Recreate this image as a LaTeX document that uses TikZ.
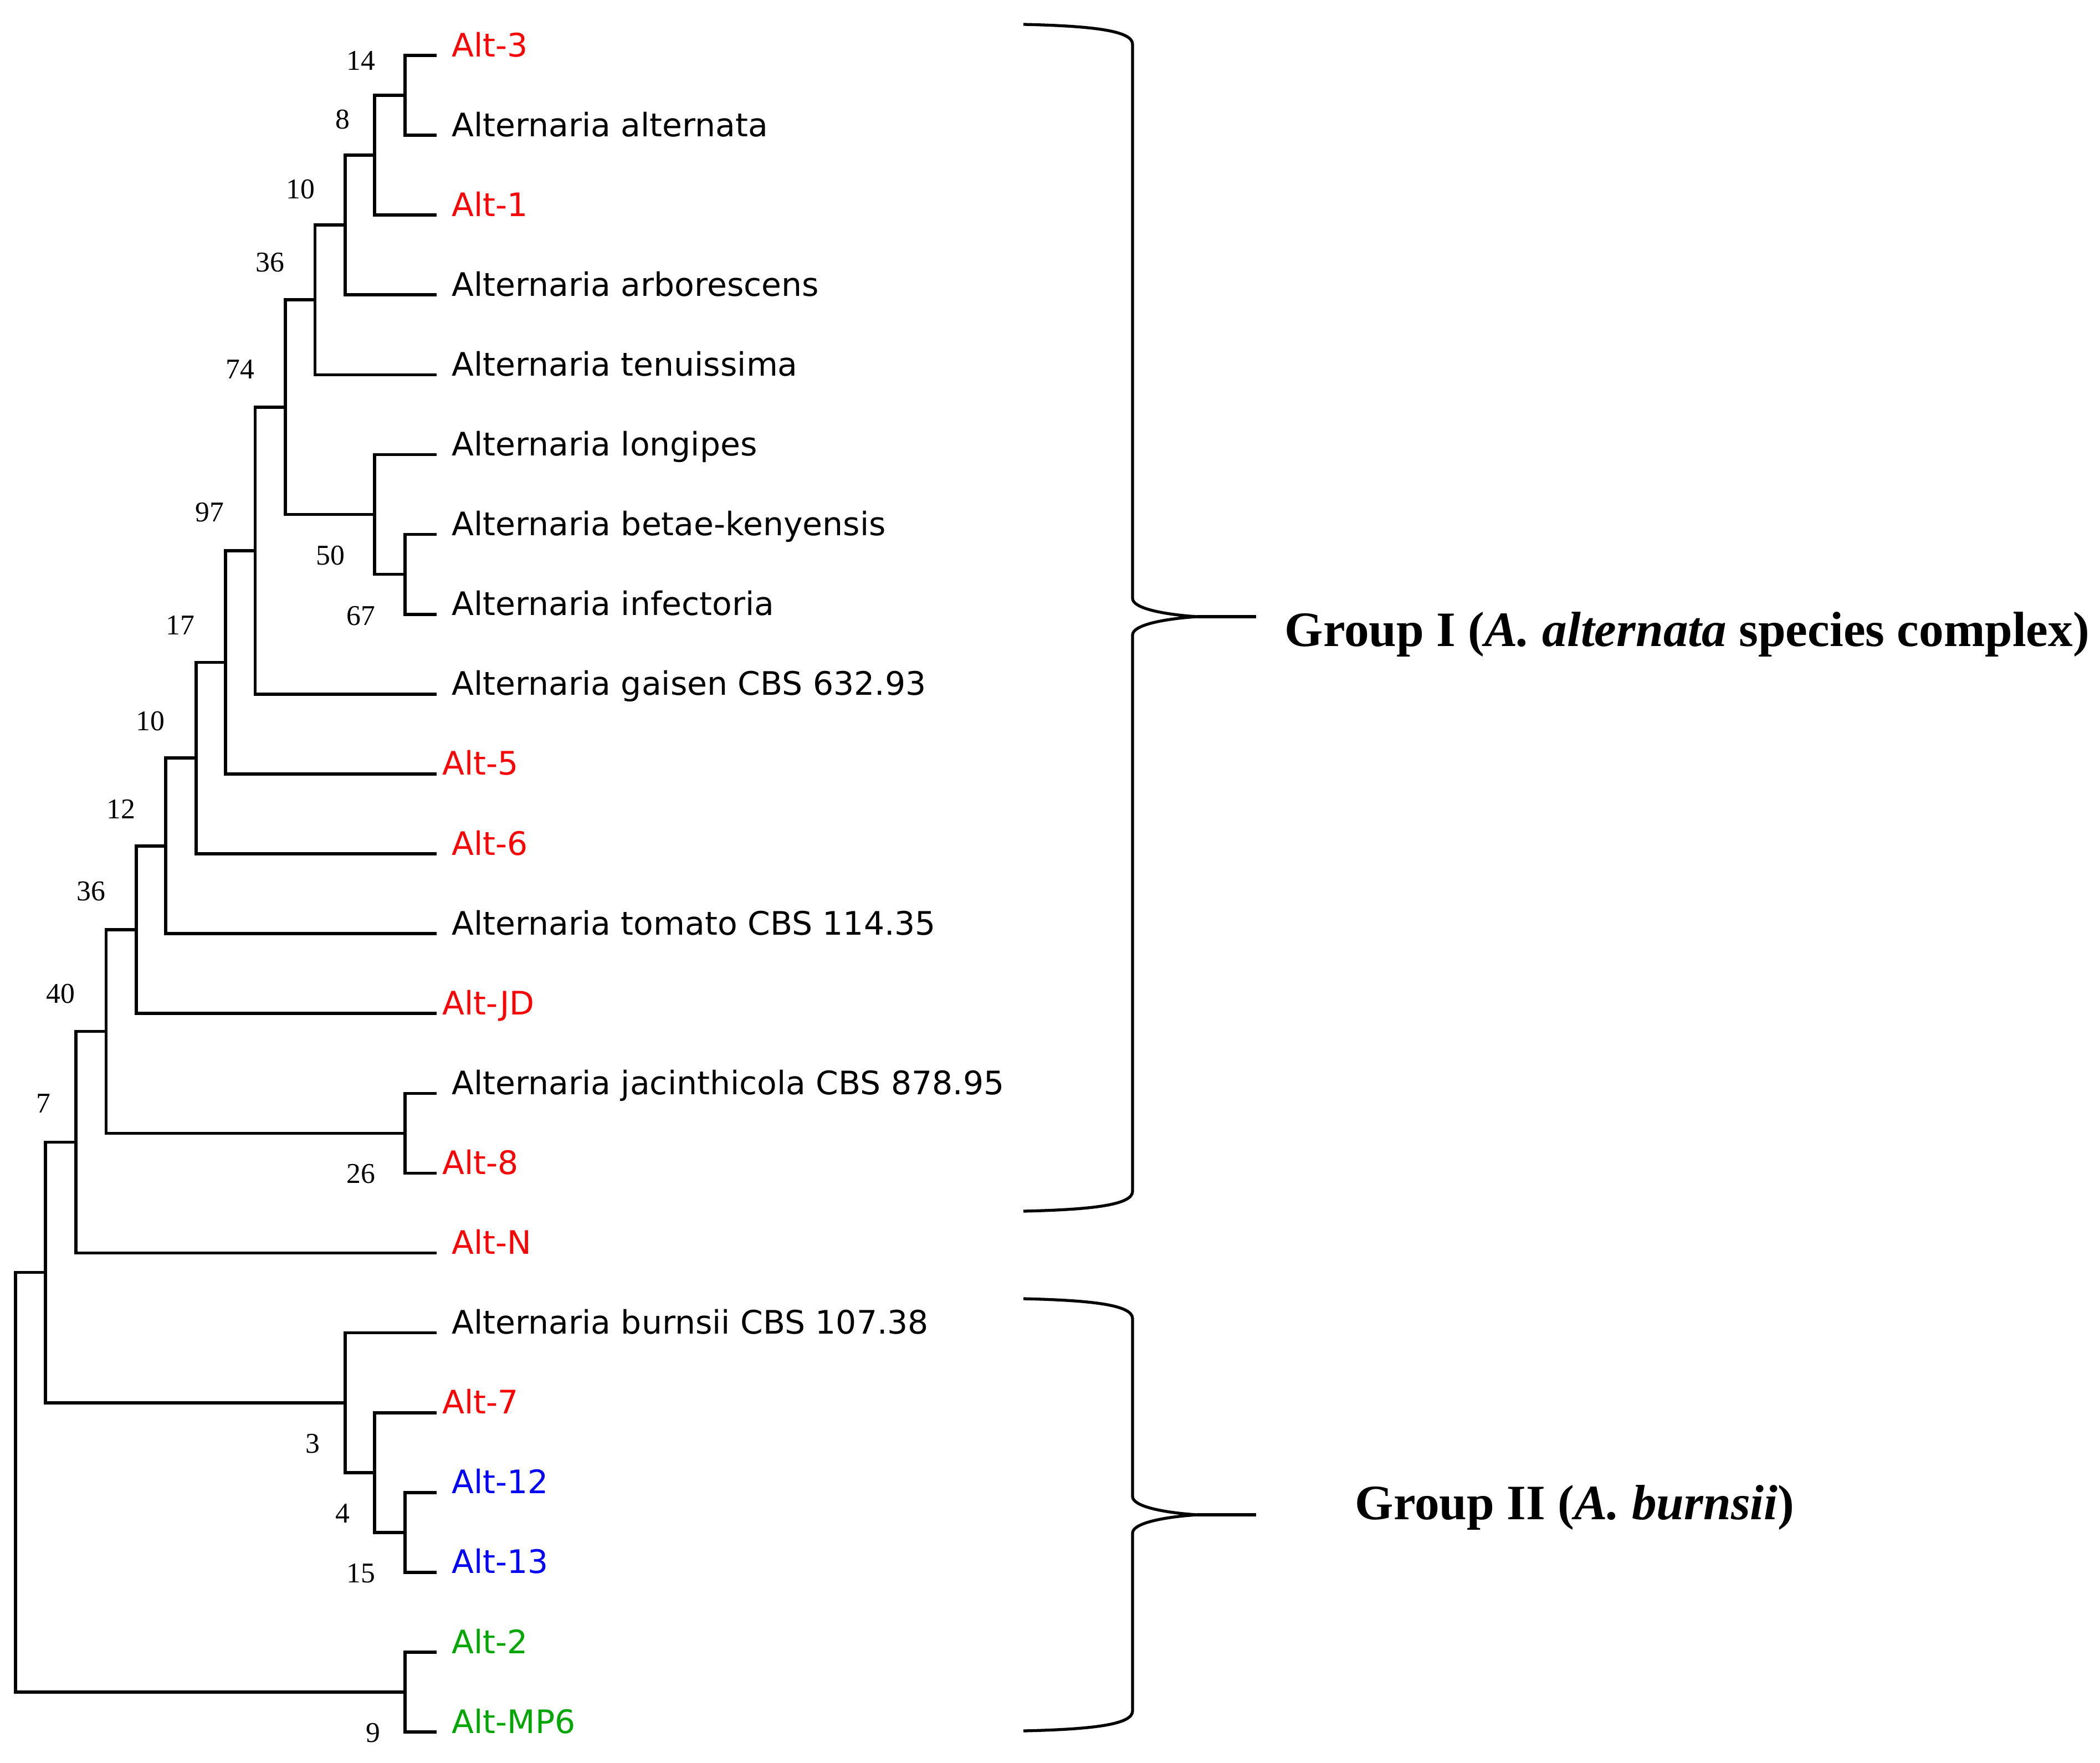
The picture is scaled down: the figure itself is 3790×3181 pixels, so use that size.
\documentclass[tikz,border=0pt]{standalone}
\usepackage{fontspec}
\setmainfont{Liberation Serif}
\newfontfamily\taxonfont{DejaVu Sans}
\definecolor{altred}{RGB}{255,0,0}
\definecolor{altblue}{RGB}{0,0,255}
\definecolor{altgreen}{RGB}{0,166,0}
\tikzset{
	branch/.style={line width=1.6pt,black},
	taxon/.style={inner sep=0pt,anchor=base west,font=\taxonfont\fontsize{16.6}{19}\selectfont},
	support/.style={inner sep=0pt,font=\fontsize{14.7}{17}\selectfont},
	groupbrace/.style={line width=1.5pt,line join=round},
	grouplabel/.style={inner sep=0pt,anchor=base west,font=\bfseries\fontsize{25.4}{30}\selectfont},
}

\begin{document}
\begin{tikzpicture}[x=0.01cm,y=-0.01cm]
\useasboundingbox (0,0) rectangle (3790,3181);

% leaves
\foreach[count=\i] \name/\col/\dx in {
	Alt-3/altred/27
	,Alternaria alternata/black/27
	,Alt-1/altred/27
	,Alternaria arborescens/black/27
	,Alternaria tenuissima/black/27
	,Alternaria longipes/black/27
	,Alternaria betae-kenyensis/black/27
	,Alternaria infectoria/black/27
	,Alternaria gaisen CBS 632.93/black/27
	,Alt-5/altred/10
	,Alt-6/altred/27
	,Alternaria tomato CBS 114.35/black/27
	,Alt-JD/altred/10
	,Alternaria jacinthicola CBS 878.95/black/27
	,Alt-8/altred/10
	,Alt-N/altred/27
	,Alternaria burnsii CBS 107.38/black/27
	,Alt-7/altred/10
	,Alt-12/altblue/27
	,Alt-13/altblue/27
	,Alt-2/altgreen/27
	,Alt-MP6/altgreen/27
}{
	\pgfmathsetmacro\yy{100+144.1*(\i-1)}
	\coordinate (L\i) at (788,\yy);
	\path (L\i) ++(\dx,2) node[taxon,text=\col] (T\i) {\name};
}

% inner nodes
\foreach \n \x \y in {
	a/731/172.05, b/676/280.1, c/623/406.2, d/568.5/541.3%
	,e/731/1036.65, f/676/928.6, g/515/734.9, h/460.6/993.9%
	,i/407/1195.4, j/354/1368.2, k/299/1526.7, l/246/1677.9%
	,m/731/2045.35, n/191.5/1861.6, o/137/2061.6%
	,p/731/2765.85, q/676/2657.8, r/623/2531.7%
	,s/82/2296.6, t/731/3054.05, root/28/2675.3%
}{
	\coordinate (\n) at (\x,\y);
}

\foreach \u \v in {
	a/L1,a/L2,b/a,b/L3,c/b,c/L4,d/c,d/L5%
	,e/L7,e/L8,f/L6,f/e,g/d,g/f,h/g,h/L9%
	,i/h,i/L10,j/i,j/L11,k/j,k/L12,l/k,l/L13%
	,m/L14,m/L15,n/l,n/m,o/n,o/L16%
	,p/L19,p/L20,q/L18,q/p,r/L17,r/q%
	,s/o,s/r,t/L21,t/L22,root/s,root/t%
}{
	\draw[branch] (\u) |- (\v);
}

% bootstrap values
\foreach[count=\i] \val \x \y in {
	14/651/109, 8/618/216, 10/542/342, 36/487/473.5, 74/433/666%
	,97/378/925, 50/596/1003, 67/651/1112, 17/325/1128, 10/271.5/1302%
	,12/218/1460, 36/164/1609, 40/109/1794, 7/78/1992, 26/651/2119%
	,3/564/2606, 4/618/2731, 15/651/2840, 9/673/3128%
}{
	\node[support] (bs\i) at (\x,\y) {\val};
}

% group braces
\foreach \top \mid \bot in {44/1113/2186, 2344/2734/3124}{
	\draw[groupbrace] (1847,\top) .. controls (1977,\top+3) and (2044,\top+12) .. (2044,\top+36)
		-- (2044,\mid-33) .. controls (2044,\mid-15) and (2100,\mid-4) .. (2160,\mid)
		.. controls (2100,\mid+4) and (2044,\mid+15) .. (2044,\mid+33)
		-- (2044,\bot-36) .. controls (2044,\bot-12) and (1977,\bot-3) .. (1847,\bot);
	\draw[groupbrace] (2160,\mid) -- (2267,\mid);
}
\node[grouplabel] (grpI) at (2318,1166) {Group I (\textit{A. alternata} species complex)};
\node[grouplabel] (grpII) at (2445,2742) {Group II (\textit{A. burnsii})};
\end{tikzpicture}
\end{document}
